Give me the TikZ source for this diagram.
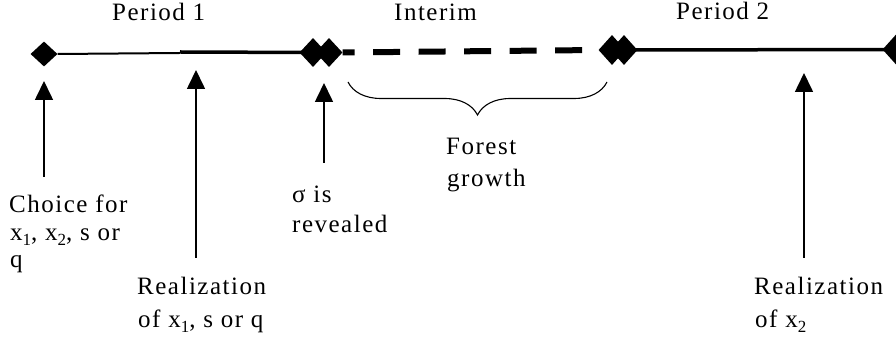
\documentclass[tikz,border=0pt]{standalone}
\usepackage{fontspec}
\setmainfont{Liberation Serif}[LetterSpace=6]
\usetikzlibrary{shapes.geometric,arrows.meta,decorations.pathreplacing}
\newcommand\sbs[1]{\raisebox{-5pt}{\fontsize{17}{17}\selectfont #1}}
\begin{document}
\begin{tikzpicture}[x=1pt,y=-1pt,
  lbl/.style={inner sep=0pt,anchor=base west,font=\fontsize{25}{30}\selectfont},
  dmd/.style={diamond,fill=black,inner sep=0pt,minimum width=27pt,minimum height=27pt},
  uparrow/.style={line width=1.6pt,-{Triangle[width=18pt,length=19pt]}},
  thinline/.style={line width=2pt},
  thickline/.style={line width=3.5pt},
  dashline/.style={line width=6pt,dash pattern=on 27pt off 18.5pt,dash phase=15pt}
]
\useasboundingbox (0,0) rectangle (896,344);
% diamonds
\node[dmd,minimum height=25pt] (a) at (44,54) {};
\node[dmd,minimum height=29pt] (b1) at (313,52.5) {};
\node[dmd,minimum height=29pt] (b2) at (329,52.5) {};
\node[dmd,minimum height=30pt] (c1) at (612,50) {};
\node[dmd,minimum height=30pt] (c2) at (624,50) {};
\node[dmd,minimum height=30pt] (d) at (896,49.5) {};
\coordinate (m) at (180,53);
\coordinate (m2) at (180,52);
% timeline
\draw[thinline] (a.east) -- (m);
\draw[thickline] (m2) -- (b1.center);
\draw[dashline] (b2.east) -- (c1.west);
\draw[thickline] (c2.center) -- (d.center);
% labels top
\node[lbl] (p1) at (112,21) {Period 1};
\node[lbl] (int) at (394,21) {Interim};
\node[lbl] (p2) at (676,20) {Period 2};
% brace
\coordinate (br1) at (348,82);
\coordinate (br2) at (607,82);
\draw[line width=1.1pt,decorate,decoration={brace,amplitude=33pt,mirror}] (br1) -- (br2);
\node[lbl] (f1) at (446,155) {Forest};
\node[lbl] (f2) at (447,187) {growth};
% arrows
\coordinate (t1) at (44,81);   \coordinate (s1) at (44,177);
\coordinate (t2) at (196,70);  \coordinate (s2) at (196,258);
\coordinate (t3) at (324,83);  \coordinate (s3) at (324,163);
\coordinate (t4) at (804,73);  \coordinate (s4) at (804,258);
\draw[uparrow] (s1) -- (t1);
\draw[uparrow] (s2) -- (t2);
\draw[uparrow] (s3) -- (t3);
\draw[uparrow] (s4) -- (t4);
% bottom labels
\node[lbl] (c1a) at (9,213) {Choice for};
\node[lbl] (c1b) at (10,241) {x\sbs{1}, x\sbs{2}, s or};
\node[lbl] (c1c) at (10,268) {q};
\node[lbl] (r1a) at (137,295) {Realization};
\node[lbl] (r1b) at (138,327) {of x\sbs{1}, s or q};
\node[lbl] (sga) at (292,203) {σ is};
\node[lbl] (sgb) at (292,233) {revealed};
\node[lbl] (r2a) at (754,295) {Realization};
\node[lbl] (r2b) at (755,327) {of x\sbs{2}};
\end{tikzpicture}
\end{document}
